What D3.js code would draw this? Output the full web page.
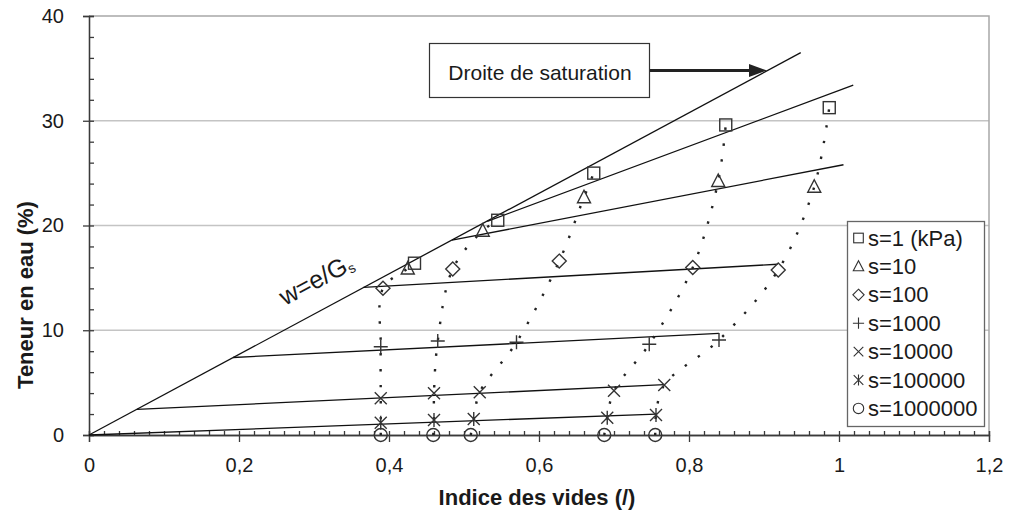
<!DOCTYPE html>
<html>
<head>
<meta charset="utf-8">
<script src="https://cdn.jsdelivr.net/npm/d3@7"></script>
<style>
  html, body { margin: 0; padding: 0; background: #fff; }
  svg text { font-family: Arial, "Liberation Sans", sans-serif; fill: #1a1a1a; }
</style>
</head>
<body>
<div id="chart"></div>
<script>
/* Teneur en eau vs indice des vides, par palier de succion s (kPa) */

const legendLabels = ["s=1 (kPa)", "s=10", "s=100", "s=1000", "s=10000", "s=100000", "s=1000000"];

// points [indice des vides, teneur en eau %] par succion
const s1       = [[0.434, 16.4], [0.545, 20.5], [0.673, 25.0], [0.849, 29.6], [0.987, 31.25]];
const s10      = [[0.425, 15.9], [0.525, 19.5], [0.660, 22.7], [0.839, 24.25], [0.967, 23.7]];
const s100     = [[0.392, 14.0], [0.485, 15.85], [0.627, 16.6], [0.805, 16.0], [0.919, 15.75]];
const s1000    = [[0.389, 8.43], [0.465, 8.97], [0.570, 8.85], [0.747, 8.66], [0.840, 9.07]];
const s10000   = [[0.389, 3.5], [0.460, 3.98], [0.521, 4.08], [0.700, 4.23], [0.767, 4.77]];
const s100000  = [[0.389, 1.18], [0.460, 1.43], [0.513, 1.53], [0.691, 1.65], [0.756, 1.91]];
const s1000000 = [[0.389, 0], [0.459, 0], [0.509, 0], [0.687, 0], [0.755, 0]];

// droite de saturation w = e/Gs (Gs = 2,6)
const Gs = 2.6;
const satLine = [[0, 0], [0.949, 0.949 * 100 / Gs]];
// droites issues de la saturation
const fitLines = [
  [[0.531, 20.4], [1.019, 33.4]],
  [[0.484, 18.6], [1.006, 25.8]],
  [[0.366, 14.1], [0.918, 16.3]],
  [[0.192, 7.4], [0.840, 9.7]],
  [[0.064, 2.45], [0.767, 4.8]],
  [[0, 0], [0.756, 2.0]]
];

const xTicks = [0, 0.2, 0.4, 0.6, 0.8, 1, 1.2];
const yTicks = [0, 10, 20, 30, 40];

const W = 1009, H = 518;
const x = d3.scaleLinear().domain([0, 1.2]).range([89, 989]);
const y = d3.scaleLinear().domain([0, 40]).range([435, 16]);

const svg = d3.select("#chart").append("svg").attr("width", W).attr("height", H);

// grille + cadre
svg.append("g").selectAll("line").data([10, 20, 30]).join("line")
  .attr("x1", x(0)).attr("x2", x(1.2)).attr("y1", d => y(d)).attr("y2", d => y(d))
  .attr("stroke", "#c4c4c4").attr("stroke-width", 1.5);
svg.append("path")
  .attr("d", `M${x(0)},${y(40)}H${x(1.2)}V${y(0)}`)
  .attr("fill", "none").attr("stroke", "#a8a8a8").attr("stroke-width", 1.5);

// axes
const fmtX = d => d3.format("~g")(d).replace(".", ",");
svg.append("g").attr("transform", `translate(0,${y(0)})`)
  .call(d3.axisBottom(x).tickValues(xTicks).tickSize(7).tickPadding(16).tickFormat(fmtX));
svg.append("g").attr("transform", `translate(0,${y(0)})`)
  .call(d3.axisTop(x).tickValues(d3.range(0, 1.2001, 0.02)).tickSize(4).tickFormat(""));
svg.append("g").attr("transform", `translate(${x(0)},0)`)
  .call(d3.axisLeft(y).tickValues(yTicks).tickSize(6).tickPadding(19).tickFormat(d3.format("d")));
svg.append("g").attr("transform", `translate(${x(0)},0)`)
  .call(d3.axisRight(y).tickValues(d3.range(0, 40.001, 2)).tickSize(5).tickFormat(""));
svg.selectAll(".domain, .tick line").attr("stroke", "#3a3a3a").attr("stroke-width", 1.3);
svg.selectAll(".tick text").attr("font-size", 20).attr("fill", "#1a1a1a")
  .style("font-family", "Arial, 'Liberation Sans', sans-serif");

// titres d'axes
svg.append("text").attr("x", 537).attr("y", 505).attr("text-anchor", "middle")
  .attr("font-size", 22).attr("font-weight", "bold").text("Indice des vides (/)");
svg.append("text").attr("transform", "translate(33,295) rotate(-90)").attr("text-anchor", "middle")
  .attr("font-size", 22).attr("font-weight", "bold").text("Teneur en eau (%)");

// droites
const line = d3.line().x(d => x(d[0])).y(d => y(d[1]));
svg.append("g").selectAll("path").data([satLine, ...fitLines]).join("path")
  .attr("d", line).attr("fill", "none").attr("stroke", "#111").attr("stroke-width", 1.3);

// courbes pointillées (mêmes éprouvettes, succion croissante)
const series = [s1, s10, s100, s1000, s10000, s100000, s1000000];
const curves = d3.range(s1.length).map(i => series.map(s => s[i]).reverse());
const smooth = d3.line().x(d => x(d[0])).y(d => y(d[1])).curve(d3.curveCatmullRom.alpha(0.5));
svg.append("g").selectAll("path").data(curves).join("path")
  .attr("d", smooth).attr("fill", "none").attr("stroke", "#222")
  .attr("stroke-width", 2.4).attr("stroke-dasharray", "2.4 13.5");

// marqueurs
const shapes = [
  (g) => g.append("rect").attr("x", -6).attr("y", -6).attr("width", 12).attr("height", 12),
  (g) => g.append("path").attr("d", "M0,-7L6.5,5.5L-6.5,5.5Z"),
  (g) => g.append("path").attr("d", "M0,-7L7,0L0,7L-7,0Z"),
  (g) => g.append("path").attr("d", "M-7,0H7M0,-7V7"),
  (g) => g.append("path").attr("d", "M-6,-6L6,6M-6,6L6,-6"),
  (g) => g.append("path").attr("d", "M-6,-6L6,6M-6,6L6,-6M0,-7V7"),
  (g) => g.append("circle").attr("r", 6.5)
];
function marker(g, k, scale) {
  const m = g.append("g").attr("fill", "none").attr("stroke", "#333").attr("stroke-width", 1.4);
  shapes[k](m);
  if (scale) m.attr("transform", `scale(${scale})`);
}
series.forEach((s, k) => {
  s.forEach(p => {
    const g = svg.append("g").attr("transform", `translate(${x(p[0])},${y(p[1])})`);
    marker(g, k);
  });
});

// étiquette w=e/Gs
const ang = Math.atan2(y(0) - y(satLine[1][1]), x(satLine[1][0]) - x(0)) * 180 / Math.PI;
const lab = svg.append("text")
  .attr("transform", `translate(285,306) rotate(${-ang})`)
  .attr("font-size", 25);
lab.append("tspan").text("w=e/G");
lab.append("tspan").attr("font-size", 14).attr("dy", 3).text("s");

// annotation
svg.append("rect").attr("x", 429.5).attr("y", 43.5).attr("width", 220).attr("height", 54)
  .attr("fill", "#fff").attr("stroke", "#333").attr("stroke-width", 1.2);
svg.append("text").attr("x", 540).attr("y", 72).attr("text-anchor", "middle")
  .attr("dominant-baseline", "central").attr("font-size", 21).text("Droite de saturation");
svg.append("line").attr("x1", 650).attr("y1", 70.5).attr("x2", 754).attr("y2", 70.5)
  .attr("stroke", "#222").attr("stroke-width", 3);
svg.append("path").attr("d", "M767,70.5L749,64L749,77Z").attr("fill", "#222");

// légende
const lg = svg.append("g");
lg.append("rect").attr("x", 847.5).attr("y", 221.5).attr("width", 137).attr("height", 205)
  .attr("fill", "#fff").attr("stroke", "#666").attr("stroke-width", 1.3);
legendLabels.forEach((t, k) => {
  const cy = 238 + k * 28.4;
  const g = lg.append("g").attr("transform", `translate(858.5,${cy})`);
  marker(g, k, 0.8);
  lg.append("text").attr("x", 868).attr("y", cy).attr("dominant-baseline", "central")
    .attr("font-size", 22).text(t);
});
</script>
</body>
</html>
